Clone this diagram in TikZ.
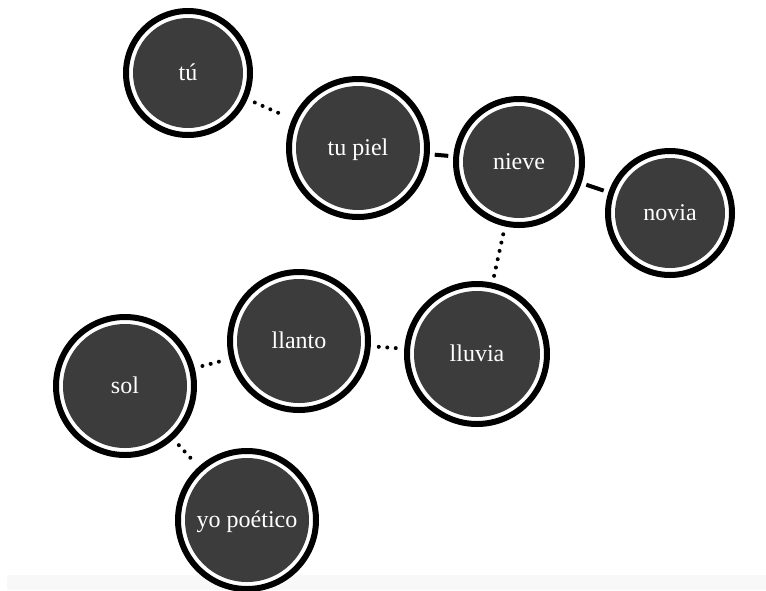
\documentclass[tikz,border=0pt]{standalone}
\usepackage{fontspec}
\setmainfont{Liberation Serif}
\definecolor{bubblefill}{HTML}{3C3C3C}
\definecolor{stripgray}{HTML}{F8F8F8}
\tikzset{
  % dark disc, thin white ring, thick black outer ring; #1 = outer radius
  bubble/.style={circle, draw=black, line width=6pt, fill=white, inner sep=0pt,
    minimum size=2*#1-6pt, text=white, font=\fontsize{24}{28}\selectfont,
    text height=17pt, text depth=2pt,
    path picture={\fill[bubblefill] (path picture bounding box.center) circle (#1-10pt);}},
  link/.style={line width=4pt, shorten <=5pt, shorten >=5pt},
  dotlink/.style={line width=4pt, line cap=round, dash pattern=on 0pt off 8.5pt,
    shorten <=8pt, shorten >=7pt}
}
\begin{document}
\begin{tikzpicture}[x=1pt, y=-1pt]
  \useasboundingbox (0,0) rectangle (766,590);
  % pale strip along the bottom edge
  \fill[stripgray] (7,575) rectangle (766,590);

  \node[bubble=65pt] (tu)     at (188,73)  {tú};
  \node[bubble=72pt] (piel)   at (358,148) {tu piel};
  \node[bubble=66pt] (nieve)  at (519,162) {nieve};
  \node[bubble=65pt] (novia)  at (670,213) {novia};
  \node[bubble=72pt] (llanto) at (299,341) {llanto};
  \node[bubble=73pt] (lluvia) at (477,354) {lluvia};
  \node[bubble=72pt] (sol)    at (125,386) {sol};
  \node[bubble=72pt] (yo)     at (247,520) {yo poético};

  \draw[dotlink] (tu) -- (piel);
  \draw[link]    (piel) -- (nieve);
  \draw[link]    (nieve) -- (novia);
  \draw[dotlink] (nieve) -- (lluvia);
  \draw[dotlink] (llanto) -- (lluvia);
  \draw[dotlink] (sol) -- (llanto);
  \draw[dotlink] (sol) -- (yo);
\end{tikzpicture}
\end{document}
